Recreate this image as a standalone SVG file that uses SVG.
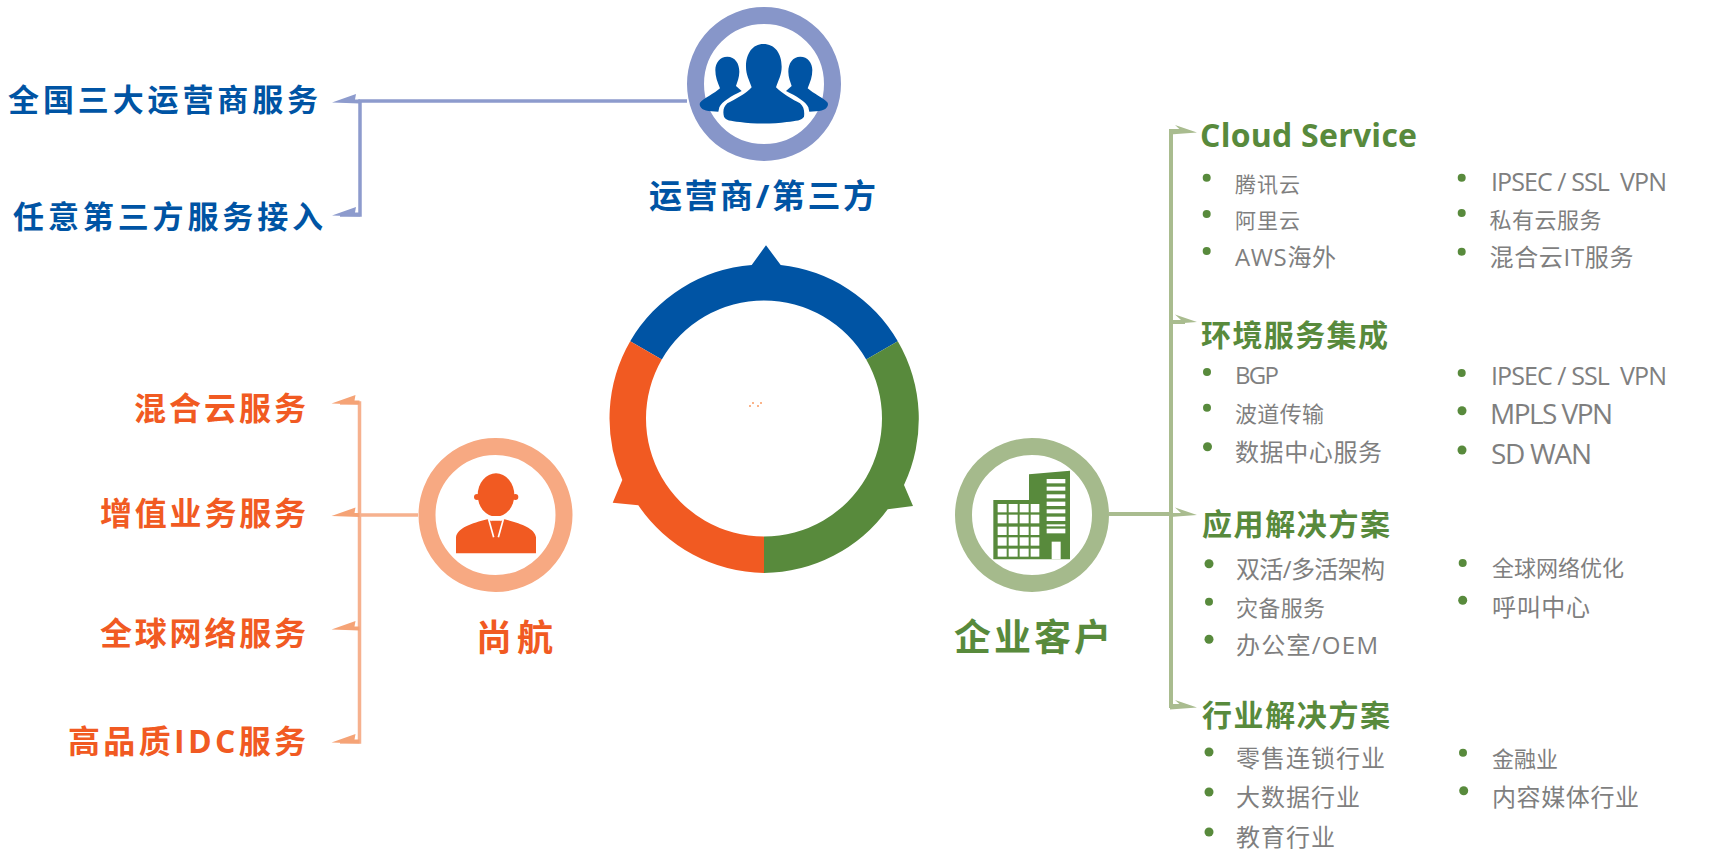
<svg xmlns="http://www.w3.org/2000/svg" width="1716" height="850" viewBox="0 0 1716 850">
<style>
text{font-family:"Open Sans","Noto Sans CJK SC",sans-serif;white-space:pre}
.h{font-weight:700}
.blue{fill:#0054a4}.org{fill:#f15a22}.grn{fill:#588a3c}
.i{fill:#7f7f7f;font-weight:400}
.s21{font-size:21px}.s22{font-size:22px}.s24{font-size:24px}.s25{font-size:25px}.s28{font-size:28px}
.s30{font-size:30px}.s31{font-size:31px}.s32{font-size:32px}
.ring{fill:#fff;stroke-width:17}
.cb{fill:none;stroke:#8d9bcd;stroke-width:3.5}
.co{fill:none;stroke:#f6b18e;stroke-width:3.5}
.cg{fill:none;stroke:#a9bc8f;stroke-width:4}
.ab{fill:#8d9bcd}.ao{fill:#f5a376}.ag{fill:#a9bc8f}
.bul{fill:#588a3c}
</style>
<defs>
<path id="arrL" d="M0 0L24-8.5L23-3L28-3L28 1L0 0Z"/>
<path id="arrR" d="M0 0L-22-7.5L-16-2L-27-2L-27 2Z"/>
</defs>
<g id="connectors">
<path class="cb" d="M687 101H360V215H340"/>
<use href="#arrL" class="ab" x="332" y="102.5"/>
<use href="#arrL" class="ab" x="332" y="215.5"/>
<path class="co" d="M418 515H359.500M340 403H359.500V742H340"/>
<use href="#arrL" class="ao" x="331.500" y="403.500"/>
<use href="#arrL" class="ao" x="331.500" y="516"/>
<use href="#arrL" class="ao" x="331.500" y="629.500"/>
<use href="#arrL" class="ao" x="331.500" y="742.500"/>
<path class="cg" d="M1109 514H1171M1185 131H1171V706H1185M1171 322H1185"/>
<use href="#arrR" class="ag" x="1197" y="132.500"/>
<use href="#arrR" class="ag" x="1197" y="322"/>
<use href="#arrR" class="ag" x="1197" y="515"/>
<use href="#arrR" class="ag" x="1197" y="707.500"/>
</g>
<g id="center-ring">
<path class="blue" d="M630.200 341.250A154.500 154.500 0 0 1 751.700 265L766 245.300L780.700 265A154.500 154.500 0 0 1 897.800 341.250L866.200 359.500A118 118 0 0 0 661.800 359.500Z"/>
<path class="grn" d="M897.800 341.250A154.500 154.500 0 0 1 904 485L913 506L887.700 509.300A154.500 154.500 0 0 1 764 573V536.500A118 118 0 0 0 866.200 359.500Z"/>
<path class="org" d="M764 573A154.500 154.500 0 0 1 638.300 505.300L612.700 502.700L622.300 480A154.500 154.500 0 0 1 630.200 341.250L661.800 359.500A118 118 0 0 0 764 536.500Z"/>
<g fill="#fbb48a"><rect x="752" y="402" width="2" height="2"/><rect x="760" y="402" width="2" height="2"/><rect x="749" y="405" width="2" height="2"/><rect x="757" y="405" width="2" height="2"/></g>
</g>
<g id="node-carrier">
<circle class="ring" cx="764" cy="84" r="68.500" stroke="#8796c9"/>
<g transform="translate(600 0) scale(.33333)" class="blue">
<path d="M490 132C525 132 545 160 545 200C545 225 535 240 528 262C545 280 580 300 600 310C612 320 614 335 612 350C605 362 590 362 560 366C520 372 460 372 420 366C390 362 378 362 372 350C368 335 370 320 382 310C405 298 440 280 455 262C448 240 438 225 438 200C438 160 458 132 490 132Z"/>
<path id="sidep" d="M382 170C405 170 418 190 418 215C418 232 412 245 408 258L425 273C395 288 365 305 358 322L355 335L325 333C305 330 296 318 300 308C310 295 345 280 360 265C352 245 346 230 346 210C346 188 360 170 382 170Z"/>
<path d="M601 170C578 170 565 190 565 215C565 232 571 245 575 258L558 273C588 288 618 305 625 322L628 335L658 333C678 330 687 318 683 308C673 295 638 280 623 265C631 245 637 230 637 210C637 188 623 170 601 170Z"/>
</g>
<text class="h blue" font-size="33" x="649" y="208" textLength="227">运营商/第三方</text>
</g>
<g id="carrier-items">
<text class="h blue s31" x="8" y="111" textLength="310">全国三大运营商服务</text>
<text class="h blue s31" x="13" y="228" textLength="310">任意第三方服务接入</text>
</g>
<g id="node-shanghang">
<circle class="ring" cx="495.500" cy="515" r="68.500" stroke="#f7a982"/>
<g transform="translate(400 440) scale(.33333)" class="org">
<ellipse cx="288" cy="165" rx="55" ry="65"/>
<circle cx="231" cy="171" r="9"/><circle cx="346" cy="171" r="9"/>
<path d="M168 340V292C172 264 215 250 262 238L288 250L314 238C361 250 404 264 408 292V340Z"/>
<path d="M266 238L281 292M310 238L295 292" stroke="#fff" stroke-width="5" fill="none"/>
<path d="M250 232L266 238L274 240H302L310 238L326 232L312 228H264Z" fill="#fff"/>
<path d="M274 242H302L296 265H280Z"/>
</g>
<text class="h org" font-size="36" x="476" y="651" textLength="77">尚航</text>
</g>
<g id="shanghang-items">
<text class="h org s32" x="134" y="420" textLength="172">混合云服务</text>
<text class="h org s32" x="100" y="525" textLength="206">增值业务服务</text>
<text class="h org s32" x="100" y="645" textLength="206">全球网络服务</text>
<text class="h org s32" x="68" y="753" textLength="238">高品质IDC服务</text>
</g>
<g id="node-enterprise">
<circle class="ring" cx="1032" cy="515" r="68.500" stroke="#a5ba8c"/>
<g transform="translate(930 440) scale(.33333)">
<path class="grn" d="M297 103L420 92V358H190V180H297Z"/>
<g fill="#fff">
<rect x="203" y="192" width="27" height="25"/><rect x="236" y="192" width="27" height="25"/><rect x="269" y="192" width="27" height="25"/><rect x="302" y="192" width="26" height="25"/>
<rect x="203" y="224" width="27" height="26"/><rect x="236" y="224" width="27" height="26"/><rect x="269" y="224" width="27" height="26"/><rect x="302" y="224" width="26" height="26"/>
<rect x="203" y="260" width="27" height="25"/><rect x="236" y="260" width="27" height="25"/><rect x="269" y="260" width="27" height="25"/><rect x="302" y="260" width="26" height="25"/>
<rect x="203" y="292" width="27" height="25"/><rect x="236" y="292" width="27" height="25"/><rect x="269" y="292" width="27" height="25"/><rect x="302" y="292" width="26" height="25"/>
<rect x="203" y="326" width="27" height="24"/><rect x="236" y="326" width="27" height="24"/><rect x="269" y="326" width="27" height="24"/><rect x="302" y="326" width="26" height="24"/>
<rect x="350" y="117" width="56" height="13"/><rect x="350" y="140" width="56" height="12"/><rect x="350" y="163" width="56" height="12"/><rect x="350" y="185" width="56" height="13"/><rect x="350" y="208" width="56" height="12"/><rect x="350" y="230" width="56" height="13"/><rect x="350" y="266" width="56" height="14"/><rect x="350" y="253" width="56" height="6"/>
<rect x="365" y="305" width="27" height="53"/>
</g>
</g>
<text class="h grn" font-size="37" x="954" y="651" textLength="157">企业客户</text>
</g>
<g id="sec-cloud">
<text class="h grn s32" x="1200" y="147" textLength="217">Cloud Service</text>
<circle class="bul" cx="1206.700" cy="177.700" r="4"/><circle class="bul" cx="1206.700" cy="214" r="4"/><circle class="bul" cx="1206.700" cy="251" r="4"/>
<circle class="bul" cx="1461.700" cy="177.700" r="4"/><circle class="bul" cx="1461.700" cy="213" r="4"/><circle class="bul" cx="1461.700" cy="251.700" r="4"/>
<text class="i s21" x="1235" y="191.500" textLength="65">腾讯云</text>
<text class="i s21" x="1235" y="227.500" textLength="65">阿里云</text>
<text class="i s24" x="1235" y="266" textLength="101">AWS海外</text>
<text class="i s25" x="1491" y="190.500" textLength="176" xml:space="preserve">IPSEC / SSL  VPN</text>
<text class="i s22" x="1489.500" y="227.500" textLength="112">私有云服务</text>
<text class="i s24" x="1489.500" y="266" textLength="144">混合云IT服务</text>
</g>
<g id="sec-env">
<text class="h grn s30" x="1201" y="346" textLength="187">环境服务集成</text>
<circle class="bul" cx="1207" cy="372" r="4"/><circle class="bul" cx="1207" cy="407.700" r="4"/><circle class="bul" cx="1207.500" cy="446.700" r="4.500"/>
<circle class="bul" cx="1461.700" cy="373" r="4"/><circle class="bul" cx="1462" cy="410.700" r="4.500"/><circle class="bul" cx="1462" cy="450" r="4.500"/>
<text class="i s24" x="1235" y="384" textLength="44">BGP</text>
<text class="i s22" x="1235" y="421.500" textLength="89">波道传输</text>
<text class="i s24" x="1235" y="461" textLength="147">数据中心服务</text>
<text class="i s25" x="1491" y="385" textLength="176" xml:space="preserve">IPSEC / SSL  VPN</text>
<text class="i s28" x="1490" y="424" textLength="123">MPLS VPN</text>
<text class="i s28" x="1491" y="464" textLength="101">SD WAN</text>
</g>
<g id="sec-app">
<text class="h grn s30" x="1202" y="535" textLength="188">应用解决方案</text>
<circle class="bul" cx="1209" cy="563.700" r="4.500"/><circle class="bul" cx="1209" cy="601.700" r="4"/><circle class="bul" cx="1209" cy="639.300" r="4.500"/>
<circle class="bul" cx="1462.700" cy="563" r="4"/><circle class="bul" cx="1462.700" cy="600.300" r="4.500"/>
<text class="i s24" x="1236" y="578" textLength="149">双活/多活架构</text>
<text class="i s22" x="1236" y="615.500" textLength="89">灾备服务</text>
<text class="i s24" x="1236" y="654" textLength="142">办公室/OEM</text>
<text class="i s22" x="1492" y="575.500" textLength="132">全球网络优化</text>
<text class="i s24" x="1492" y="615.500" textLength="98">呼叫中心</text>
</g>
<g id="sec-ind">
<text class="h grn s30" x="1202" y="726" textLength="188">行业解决方案</text>
<circle class="bul" cx="1209" cy="752" r="4.500"/><circle class="bul" cx="1209" cy="792" r="4.500"/><circle class="bul" cx="1209" cy="832" r="4.500"/>
<circle class="bul" cx="1463" cy="752.700" r="4"/><circle class="bul" cx="1463.700" cy="790.700" r="4.500"/>
<text class="i s24" x="1236" y="766.500" textLength="149">零售连锁行业</text>
<text class="i s24" x="1236" y="806" textLength="124">大数据行业</text>
<text class="i s24" x="1236" y="846" textLength="99">教育行业</text>
<text class="i s22" x="1492" y="766.500" textLength="66">金融业</text>
<text class="i s24" x="1492" y="805.500" textLength="147">内容媒体行业</text>
</g>
</svg>
